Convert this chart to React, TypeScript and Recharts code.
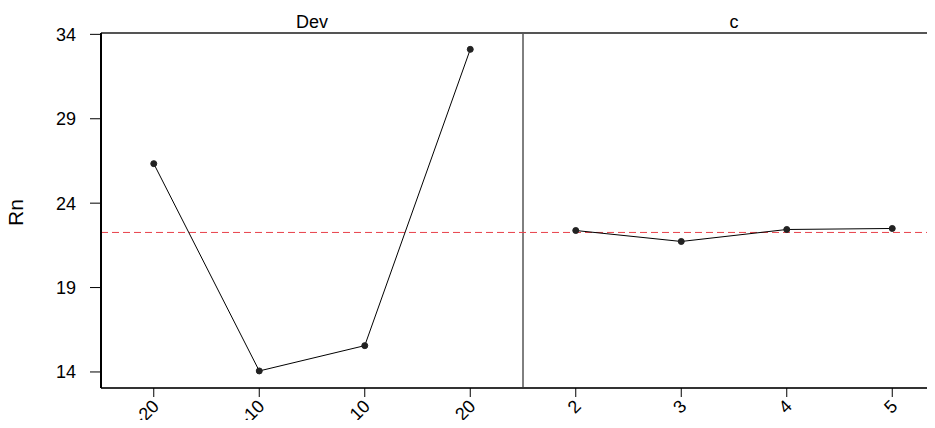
import { LineChart, Line, XAxis, YAxis, ReferenceLine } from 'recharts';

// level means
const devLevels = ['-20', '-10', '10', '20'];
const devMeans = [26.34, 14.06, 15.56, 33.11];
const cLevels = ['2', '3', '4', '5'];
const cMeans = [22.38, 21.73, 22.44, 22.5];
const panelNames = ['Dev', 'c'];
const yTicks = [14, 19, 24, 29, 34];

const xLabels = [...devLevels, ...cLevels];
const rows = [
  ...devLevels.map((lv, i) => ({ pos: i + 1, label: lv, dev: devMeans[i], c: null })),
  ...cLevels.map((lv, i) => ({ pos: devLevels.length + i + 1, label: lv, dev: null, c: cMeans[i] })),
];
const allMeans = [...devMeans, ...cMeans];
const grandMean = allMeans.reduce((s, v) => s + v, 0) / allMeans.length;

const FONT = '"Liberation Sans", Arial, sans-serif';

function BottomTick(props: any) {
  const { x, y, payload } = props;
  const ax = x + 2;
  const ay = y + 4;
  return (
    <text
      x={ax}
      y={ay}
      transform={`rotate(-45, ${ax}, ${ay})`}
      textAnchor="end"
      dy="0.35em"
      fontSize={18}
      fontFamily={FONT}
      fill="#000"
    >
      {xLabels[payload.value - 1]}
    </text>
  );
}

function PanelTitle(props: any) {
  const { x, payload } = props;
  const idx = payload.value < 4.5 ? 0 : 1;
  return (
    <text x={x} y={28} textAnchor="middle" fontSize={18} fontFamily={FONT} fill="#000">
      {panelNames[idx]}
    </text>
  );
}

function YTitle(props: any) {
  const { viewBox } = props;
  const cy = viewBox.y + viewBox.height / 2 + 2;
  return (
    <text
      x={23}
      y={cy}
      transform={`rotate(-90, 23, ${cy})`}
      textAnchor="middle"
      fontSize={21}
      fontFamily={FONT}
      fill="#000"
    >
      Rn
    </text>
  );
}

export default function App() {
  return (
    <div style={{ position: 'relative', margin: -8, width: 935, height: 428, overflow: 'hidden', background: '#fff' }}>
      <LineChart width={945} height={428} data={rows} margin={{ top: 0, right: 0, bottom: 0, left: 0 }}>
        <XAxis
          xAxisId="top"
          orientation="top"
          dataKey="pos"
          type="number"
          domain={[0.5, 8.5]}
          ticks={[2.5, 6.5]}
          height={33}
          tickLine={false}
          tickSize={0}
          axisLine={{ stroke: '#555', strokeWidth: 2 }}
          tick={<PanelTitle />}
        />
        <XAxis
          dataKey="pos"
          type="number"
          domain={[0.5, 8.5]}
          ticks={[1, 2, 3, 4, 5, 6, 7, 8]}
          height={40}
          tickSize={9}
          tickMargin={2}
          tickLine={{ stroke: '#000' }}
          axisLine={{ stroke: '#333', strokeWidth: 2 }}
          tick={<BottomTick />}
        />
        <YAxis
          type="number"
          domain={[13.05, 34.08]}
          allowDataOverflow
          ticks={yTicks}
          width={101}
          tickSize={11}
          tickMargin={14}
          tickLine={{ stroke: '#000' }}
          axisLine={{ stroke: '#000', strokeWidth: 2 }}
          tick={{ fill: '#000', fontSize: 18, fontFamily: FONT }}
          label={<YTitle />}
        />
        <ReferenceLine x={4.5} stroke="#000" strokeWidth={1} />
        <ReferenceLine y={grandMean} stroke="#e8404a" strokeWidth={1} strokeDasharray="7 4" />
        <Line
          dataKey="dev"
          stroke="#000"
          strokeWidth={1}
          dot={{ r: 3, fill: '#222', stroke: '#222', strokeWidth: 1 }}
          activeDot={false}
          isAnimationActive={false}
        />
        <Line
          dataKey="c"
          stroke="#000"
          strokeWidth={1}
          dot={{ r: 3, fill: '#222', stroke: '#222', strokeWidth: 1 }}
          activeDot={false}
          isAnimationActive={false}
        />
      </LineChart>
    </div>
  );
}
